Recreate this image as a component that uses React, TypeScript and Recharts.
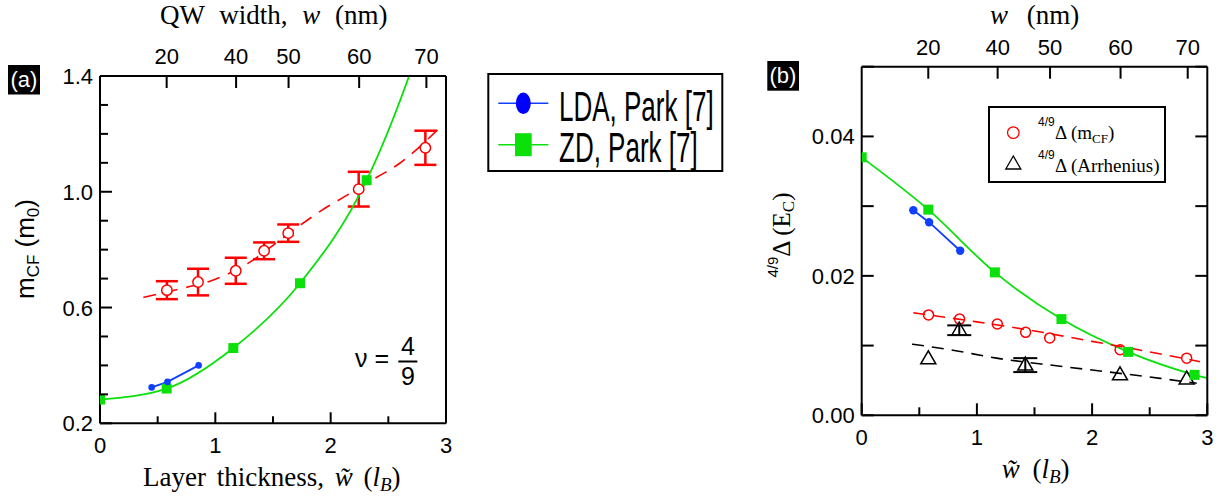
import React from "react";
import { ComposedChart, Line, Scatter, XAxis, YAxis, ErrorBar, Legend } from "recharts";

const SANS = "'Liberation Sans', Arial, Helvetica, sans-serif";
const SERIF = "'Liberation Serif', 'Times New Roman', Times, serif";
const GREEN = "#0be00b";
const BLUE = "#1040ff";
const RED = "#ff0000";
const AXIS = { stroke: "#000", strokeWidth: 2 };

// layer thickness (l_B) of the ZD and LDA calculations
const zdThickness = [0, 0.578, 1.156, 1.734, 2.312, 2.89, 3.468];
const zdMass = [0.282, 0.32, 0.46, 0.684, 1.04, 1.65, 2.5];
const zdGap = [0.037, 0.0295, 0.0205, 0.0138, 0.0091, 0.0058, 0.0038];

const ldaThickness = [0.448, 0.585, 0.855];
const ldaMass = [0.324, 0.343, 0.4];
const ldaGap = [0.0294, 0.0277, 0.0236];

// measured samples
const sampleThickness = [0.58, 0.85, 1.177, 1.423, 1.632, 2.243, 2.821];
const sampleMass = [0.66, 0.688, 0.727, 0.796, 0.857, 1.009, 1.152];
const sampleMassErr = [0.031, 0.046, 0.045, 0.029, 0.03, 0.06, 0.059];
const sampleGapMcf = [0.0144, 0.0138, 0.0131, 0.0119, 0.0111, 0.0094, 0.0082];

const arrThickness = [0.578, 0.847, 1.42, 2.242, 2.821];
const arrGap = [0.0081, 0.0122, 0.0072, 0.0058, 0.0052];
const arrGapErr = [0, 0.0007, 0.001, 0, 0];

// dashed guides
const massFitX = [0.376, 0.73, 0.96, 1.13, 1.32, 1.5, 1.78, 1.95, 2.12, 2.4, 2.59, 2.934];
const massFitY = [0.635, 0.668, 0.692, 0.72, 0.762, 0.815, 0.897, 0.943, 0.983, 1.05, 1.096, 1.217];
const mcfFitX = [0.448, 1.0, 1.5, 2.0, 2.5, 2.936];
const mcfFitY = [0.0147, 0.0134, 0.0121, 0.0106, 0.0091, 0.0077];
const arrFitX = [0.437, 0.77, 1.17, 1.69, 2.1, 2.59, 2.908];
const arrFitY = [0.0102, 0.0094, 0.0082, 0.0071, 0.0063, 0.0053, 0.0046];

// ticks
const thicknessTicks = [0, 0.5, 1, 1.5, 2, 2.5, 3];
const thicknessLabels = [0, 1, 2, 3];
const widthTicks = [0.578, 1.18, 1.635, 2.247, 2.83];
const widthLabels = ["20", "40", "50", "60", "70"];
const massTicks = [0.2, 0.3, 0.4, 0.5, 0.6, 0.7, 0.8, 0.9, 1.0, 1.1, 1.2, 1.3, 1.4];
const massLabels = [0.2, 0.6, 1.0, 1.4];
const gapTicks = [0, 0.01, 0.02, 0.03, 0.04, 0.05];
const gapLabels = [0, 0.02, 0.04];

const legendA = ["LDA, Park [7]", "ZD, Park [7]"];
const legendB = ["mCF", "Arrhenius"];

// plot boxes in page pixels (follow from the chart margins below)
const BOX_A = { l: 100, r: 446, t: 76, b: 423.3, y0: 0.2, y1: 1.4 };
const BOX_B = { l: 861.7, r: 1207.3, t: 66.7, b: 415.3, y0: 0, y1: 0.05 };

const pts = (xs: number[], ys: number[], es?: number[]) =>
  xs.map((x, i) => ({ x, y: ys[i], err: es ? es[i] : undefined }));

const near = (list: number[], v: number) => list.some((m) => Math.abs(m - v) < 1e-6);

const bottomLabel = (p: any) => {
  const v = p.payload.value;
  if (!near(thicknessLabels, v)) return <g />;
  return (
    <text x={p.x} y={p.y + 30} textAnchor="middle" fontFamily={SANS} fontSize={22} fill="#000">
      {v}
    </text>
  );
};

const topLabel = (p: any) => {
  const i = widthTicks.findIndex((t) => Math.abs(t - p.payload.value) < 1e-6);
  return (
    <text x={p.x} y={p.y - 12} textAnchor="middle" fontFamily={SANS} fontSize={22} fill="#000">
      {widthLabels[i]}
    </text>
  );
};

const leftLabel = (labels: number[], digits: number) => (p: any) => {
  const v = p.payload.value;
  if (!near(labels, v)) return <g />;
  return (
    <text x={p.x - 7} y={p.y + 8} textAnchor="end" fontFamily={SANS} fontSize={22} fill="#000">
      {v.toFixed(digits)}
    </text>
  );
};

const squareDot = (size: number, yMin: number, yMax: number) => (p: any) => {
  const { cx, cy, payload, index } = p;
  if (payload.y < yMin || payload.y > yMax || payload.x > 3) return <g key={`sq${index}`} />;
  return <rect key={`sq${index}`} x={cx - size / 2} y={cy - size / 2} width={size} height={size} fill={GREEN} />;
};

const openCircle = (r: number, fill: string) => (p: any) => (
  <circle cx={p.cx} cy={p.cy} r={r} fill={fill} stroke={RED} strokeWidth={1.5} />
);

const openTriangle = (p: any) => (
  <polygon
    points={`${p.cx},${p.cy - 8} ${p.cx - 7.5},${p.cy + 5} ${p.cx + 7.5},${p.cy + 5}`}
    fill="none"
    stroke="#000"
    strokeWidth={1.5}
  />
);

const LegendBoxA = (props: any) => {
  const items = [...(props.payload || [])]
    .filter((e: any) => legendA.includes(e.value))
    .sort((a: any, b: any) => legendA.indexOf(a.value) - legendA.indexOf(b.value));
  return (
    <svg width={238} height={100} style={{ display: "block" }}>
      <rect x={1.3} y={1} width={234} height={97} fill="#fff" stroke="#000" strokeWidth={2} />
      {items.map((e: any, i: number) => {
        const cy = 30.3 + i * 41.4;
        return (
          <g key={e.value}>
            <line x1={11.3} x2={61.3} y1={cy} y2={cy} stroke={e.color} strokeWidth={1.6} />
            {i === 0 ? (
              <ellipse cx={36.3} cy={cy} rx={7.5} ry={10.8} fill="#0000ff" />
            ) : (
              <rect x={28} y={cy - 11.5} width={16.7} height={23} fill={GREEN} />
            )}
            <text transform={`translate(72,${cy + 17.5}) scale(1,1.62)`} fontFamily={SANS} fontSize={26} fill="#000">
              {e.value}
            </text>
          </g>
        );
      })}
    </svg>
  );
};

const LegendBoxB = () => (
  <svg width={180} height={80} style={{ display: "block" }}>
    <rect x={1} y={1} width={176} height={75} fill="#fff" stroke="#000" strokeWidth={2} />
    <circle cx={25.3} cy={26.6} r={5.8} fill="none" stroke={RED} strokeWidth={1.3} />
    <text x={50} y={20.3} fontFamily={SANS} fontSize={12}>4/9</text>
    <text x={67} y={32.6} fontFamily={SERIF} fontSize={19}>
      Δ (m<tspan fontSize={13} dy={4}>CF</tspan>
      <tspan dy={-4}>)</tspan>
    </text>
    <polygon points="25.3,50 17.8,63 32.8,63" fill="none" stroke="#000" strokeWidth={1.3} />
    <text x={50} y={52.6} fontFamily={SANS} fontSize={12}>4/9</text>
    <text x={67} y={66} fontFamily={SERIF} fontSize={19}>Δ (Arrhenius)</text>
  </svg>
);

// the top (QW width) and right axes share the domain of the bottom/left ones,
// so one series is routed through them to keep those axes populated
function PanelA() {
  return (
    <ComposedChart width={740} height={499} margin={{ top: 75, right: 293, bottom: 74.7, left: 99 }}>
      <XAxis xAxisId="b" dataKey="x" type="number" domain={[0, 3]} allowDataOverflow ticks={thicknessTicks}
        interval={0} height={1} tickSize={0} tickMargin={0} tickLine={false} axisLine={AXIS} tick={bottomLabel} />
      <XAxis xAxisId="t" dataKey="x" orientation="top" type="number" domain={[0, 3]} allowDataOverflow ticks={widthTicks}
        interval={0} height={1} tickSize={0} tickMargin={0} tickLine={false} axisLine={AXIS} tick={topLabel} />
      <YAxis yAxisId="l" dataKey="y" type="number" domain={[0.2, 1.4]} allowDataOverflow ticks={massTicks}
        interval={0} width={1} tickSize={0} tickMargin={0} tickLine={false} axisLine={AXIS} tick={leftLabel(massLabels, 1)} />
      <YAxis yAxisId="r" dataKey="y" orientation="right" type="number" domain={[0.2, 1.4]} allowDataOverflow
        width={1} tick={false} tickLine={false} axisLine={AXIS} />
      <Scatter name="mass" data={pts(sampleThickness, sampleMass, sampleMassErr)} xAxisId="b" yAxisId="l"
        legendType="none" isAnimationActive={false} shape={openCircle(5.2, "#fff")}>
        <ErrorBar dataKey="err" direction="y" width={11} stroke={RED} strokeWidth={2.5} />
      </Scatter>
      <Line data={pts(massFitX, massFitY)} dataKey="y" xAxisId="t" yAxisId="r" type="monotone" stroke={RED}
        strokeWidth={1.6} strokeDasharray="13 9" dot={false} legendType="none" isAnimationActive={false} />
      <Line name={legendA[1]} data={pts(zdThickness, zdMass)} dataKey="y" xAxisId="b" yAxisId="l" type="monotone"
        stroke={GREEN} strokeWidth={1.8} dot={squareDot(10, 0.2, 1.4)} isAnimationActive={false} />
      <Line name={legendA[0]} data={pts(ldaThickness, ldaMass)} dataKey="y" xAxisId="b" yAxisId="l" stroke={BLUE}
        strokeWidth={1.8} dot={{ r: 3.3, fill: BLUE, stroke: BLUE, strokeWidth: 0 }} isAnimationActive={false} />
      <Legend layout="vertical" align="center" verticalAlign="middle"
        wrapperStyle={{ left: 487, top: 73, width: 238, height: 100 }} content={LegendBoxA} />
    </ComposedChart>
  );
}

function PanelB() {
  return (
    <ComposedChart width={485} height={499} margin={{ top: 65.7, right: 16.7, bottom: 82.7, left: 120.7 }}>
      <XAxis xAxisId="b" dataKey="x" type="number" domain={[0, 3]} allowDataOverflow ticks={thicknessTicks}
        interval={0} height={1} tickSize={0} tickMargin={0} tickLine={false} axisLine={AXIS} tick={bottomLabel} />
      <XAxis xAxisId="t" dataKey="x" orientation="top" type="number" domain={[0, 3]} allowDataOverflow ticks={widthTicks}
        interval={0} height={1} tickSize={0} tickMargin={0} tickLine={false} axisLine={AXIS} tick={topLabel} />
      <YAxis yAxisId="l" dataKey="y" type="number" domain={[0, 0.05]} allowDataOverflow ticks={gapTicks}
        interval={0} width={1} tickSize={0} tickMargin={0} tickLine={false} axisLine={AXIS} tick={leftLabel(gapLabels, 2)} />
      <YAxis yAxisId="r" dataKey="y" orientation="right" type="number" domain={[0, 0.05]} allowDataOverflow
        width={1} tick={false} tickLine={false} axisLine={AXIS} />
      <Line data={pts(zdThickness, zdGap)} dataKey="y" xAxisId="b" yAxisId="l" type="monotone" stroke={GREEN}
        strokeWidth={1.8} dot={squareDot(10, 0, 0.05)} legendType="none" isAnimationActive={false} />
      <Line data={pts(ldaThickness, ldaGap)} dataKey="y" xAxisId="b" yAxisId="l" stroke={BLUE} strokeWidth={1.8}
        dot={{ r: 4.2, fill: BLUE, stroke: BLUE, strokeWidth: 0 }} legendType="none" isAnimationActive={false} />
      <Line data={pts(mcfFitX, mcfFitY)} dataKey="y" xAxisId="b" yAxisId="l" type="monotone" stroke={RED}
        strokeWidth={1.6} strokeDasharray="12 8" dot={false} legendType="none" isAnimationActive={false} />
      <Line data={pts(arrFitX, arrFitY)} dataKey="y" xAxisId="t" yAxisId="r" type="monotone" stroke="#000"
        strokeWidth={1.6} strokeDasharray="12 8" dot={false} legendType="none" isAnimationActive={false} />
      <Scatter name={legendB[0]} data={pts(sampleThickness, sampleGapMcf)} xAxisId="b" yAxisId="l"
        isAnimationActive={false} shape={openCircle(5, "none")} />
      <Scatter name={legendB[1]} data={pts(arrThickness, arrGap, arrGapErr)} xAxisId="b" yAxisId="l"
        isAnimationActive={false} shape={openTriangle}>
        <ErrorBar dataKey="err" direction="y" width={12} stroke="#000" strokeWidth={2} />
      </Scatter>
      <Legend layout="vertical" align="center" verticalAlign="middle"
        wrapperStyle={{ left: 248, top: 105.7, width: 180, height: 80 }} content={LegendBoxB} />
    </ComposedChart>
  );
}

// inward tick marks of one frame, placed from the same tick arrays the axes use
function FrameTicks(props: {
  box: typeof BOX_A;
  xMajor: number; xMinor: number; yMajor: number; yMinor: number;
  yTicks: number[]; yLabels: number[]; rightTicks: boolean;
}) {
  const { box, xMajor, xMinor, yMajor, yMinor, yTicks, yLabels, rightTicks } = props;
  const sx = (v: number) => box.l + (v / 3) * (box.r - box.l);
  const sy = (v: number) => box.b - ((v - box.y0) / (box.y1 - box.y0)) * (box.b - box.t);
  const st = { stroke: "#000", strokeWidth: 2 };
  return (
    <g>
      {thicknessTicks.map((v) => (
        <line key={`b${v}`} x1={sx(v)} x2={sx(v)} y1={box.b} y2={box.b - (near(thicknessLabels, v) ? xMajor : xMinor)} {...st} />
      ))}
      {widthTicks.map((v) => (
        <line key={`t${v}`} x1={sx(v)} x2={sx(v)} y1={box.t} y2={box.t + 12} {...st} />
      ))}
      {yTicks.map((v) => (
        <line key={`l${v}`} x1={box.l} x2={box.l + (near(yLabels, v) ? yMajor : yMinor)} y1={sy(v)} y2={sy(v)} {...st} />
      ))}
      {rightTicks &&
        yTicks.map((v) => <line key={`r${v}`} x1={box.r} x2={box.r - 12} y1={sy(v)} y2={sy(v)} {...st} />)}
    </g>
  );
}

function Annotations() {
  return (
    <svg width={1225} height={499} style={{ position: "absolute", left: 0, top: 0, pointerEvents: "none" }}>
      <FrameTicks box={BOX_A} xMajor={11} xMinor={7} yMajor={12} yMinor={8} yTicks={massTicks} yLabels={massLabels} rightTicks={false} />
      <FrameTicks box={BOX_B} xMajor={12} xMinor={8} yMajor={12} yMinor={12} yTicks={gapTicks} yLabels={gapLabels} rightTicks />

      {/* panel (a) */}
      <rect x={8} y={65} width={32} height={29.5} fill="#000" />
      <text x={24} y={87} textAnchor="middle" fontFamily={SANS} fontSize={22} fill="#fff">(a)</text>
      <text x={160} y={24} fontFamily={SERIF} fontSize={27} wordSpacing={8}>
        QW width, <tspan fontStyle="italic">w</tspan> (nm)
      </text>
      <text x={143} y={486} fontFamily={SERIF} fontSize={27} wordSpacing={4}>
        Layer thickness, <tspan fontStyle="italic">w̃</tspan> (<tspan fontStyle="italic">l</tspan>
        <tspan fontStyle="italic" fontSize={19} dy={5}>B</tspan>
        <tspan dy={-5}>)</tspan>
      </text>
      <text transform="translate(34,249) rotate(-90)" textAnchor="middle" fontFamily={SANS} fontSize={26}>
        m<tspan fontSize={17} dy={5}>CF</tspan>
        <tspan dy={-5}> (m</tspan>
        <tspan fontSize={17} dy={5}>0</tspan>
        <tspan dy={-5}>)</tspan>
      </text>
      <text x={355} y={367} fontFamily={SANS} fontSize={25}>ν =</text>
      <text x={408} y={355} textAnchor="middle" fontFamily={SANS} fontSize={25}>4</text>
      <line x1={398.3} x2={417.3} y1={361.5} y2={361.5} stroke="#000" strokeWidth={2} />
      <text x={408} y={385} textAnchor="middle" fontFamily={SANS} fontSize={25}>9</text>

      {/* panel (b) */}
      <rect x={767.3} y={61} width={31.7} height={29.7} fill="#000" />
      <text x={783} y={83} textAnchor="middle" fontFamily={SANS} fontSize={22} fill="#fff">(b)</text>
      <text x={990} y={24} fontFamily={SERIF} fontSize={27} wordSpacing={12}>
        <tspan fontStyle="italic">w</tspan> (nm)
      </text>
      <text x={1001.7} y={478} fontFamily={SERIF} fontSize={27} wordSpacing={6}>
        <tspan fontStyle="italic">w̃</tspan> (<tspan fontStyle="italic">l</tspan>
        <tspan fontStyle="italic" fontSize={19} dy={5}>B</tspan>
        <tspan dy={-5}>)</tspan>
      </text>
      <text transform="translate(790,235) rotate(-90)" textAnchor="middle" fontFamily={SERIF} fontSize={25}>
        <tspan fontFamily={SANS} fontSize={15} dy={-12}>4/9</tspan>
        <tspan dy={12}>Δ (E</tspan>
        <tspan fontSize={17} dy={4}>C</tspan>
        <tspan dy={-4}>)</tspan>
      </text>
    </svg>
  );
}

export default function App() {
  return (
    <div style={{ position: "absolute", left: 0, top: 0, width: 1225, height: 499, background: "#fff" }}>
      <div style={{ position: "absolute", left: 0, top: 0 }}>
        <PanelA />
      </div>
      <div style={{ position: "absolute", left: 740, top: 0 }}>
        <PanelB />
      </div>
      <Annotations />
    </div>
  );
}
